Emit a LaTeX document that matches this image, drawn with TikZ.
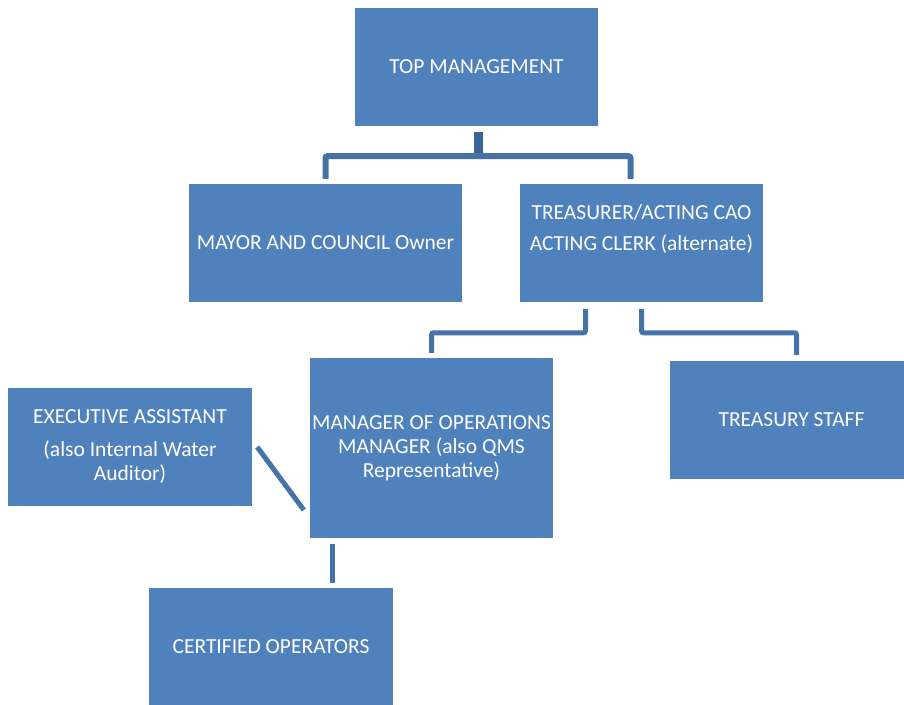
\documentclass[tikz,border=0pt]{standalone}
\usepackage{fontspec}
\setmainfont{Carlito}
\usetikzlibrary{positioning}
\definecolor{boxblue}{HTML}{4F81BD}
\definecolor{linkblue}{HTML}{4672AA}
\definecolor{stubblue}{HTML}{3B6496}

\begin{document}
\begin{tikzpicture}[
    x=1pt, y=-1pt,
    box/.style={fill=boxblue, draw=none, align=center, text=white,
    minimum width=243pt, minimum height=118pt, inner sep=2pt,
    font=\fontsize{21.5}{24}\selectfont},
    link/.style={draw=linkblue, line width=5pt, rounded corners=2pt},
    stub/.style={draw=stubblue, line width=9pt}
]
\useasboundingbox (0,0) rectangle (904,704);
\node[box] (top) at (476.5,67) {TOP MANAGEMENT};
\node[box, minimum width=273pt] (mayor) at (325.5,243) {MAYOR AND COUNCIL Owner};
\node[box] (treas) at (641.5,243) {TREASURER/ACTING CAO\\[7pt]ACTING CLERK (alternate)\\[7pt]\mbox{}};
\node[box, minimum height=180pt] (mgr) at (431.5,448) {MANAGER OF OPERATIONS\\MANAGER (also QMS\\Representative)};
\node[box] (staff) at (791.5,420) {TREASURY STAFF};
\node[box, minimum width=244pt] (exec) at (130,447) {EXECUTIVE ASSISTANT\\[9pt](also Internal Water\\Auditor)};
\node[box, minimum width=244pt] (ops) at (271,647) {CERTIFIED OPERATORS};
% top level
\draw[stub] ([xshift=2pt, yshift=-6pt]top.south) -- ([xshift=2pt, yshift=-32pt]top.south);
\draw[link, line width=6pt] ([yshift=5pt]mayor.north) |- ([yshift=-30pt]top.south)
    -| ([xshift=-11pt, yshift=5pt]treas.north);
% treasurer level
\draw[link] ([xshift=-56pt, yshift=-7pt]treas.south) |- ([yshift=25pt]mgr.north)
    -- ([yshift=5pt]mgr.north);
\draw[link] ([yshift=-7pt]treas.south) |- ([xshift=5pt, yshift=28pt]staff.north)
    -- ([xshift=5pt, yshift=6pt]staff.north);
% manager level
\draw[link, rounded corners=0pt] ([xshift=5pt]exec.east) -- ([xshift=-6pt, yshift=-62pt]mgr.west);
\draw[link] ([xshift=-99.5pt, yshift=-6pt]mgr.south) -- ([xshift=61pt, yshift=5pt]ops.north);
\end{tikzpicture}
\end{document}
